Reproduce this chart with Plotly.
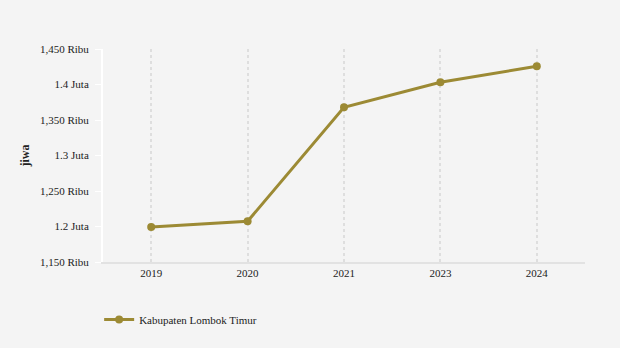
import plotly.graph_objects as go

years = ["2019", "2020", "2021", "2023", "2024"]
values = [1199300, 1207300, 1367900, 1403100, 1425600]
series_name = "Kabupaten Lombok Timur"
y_tick_vals = [1150000, 1200000, 1250000, 1300000, 1350000, 1400000, 1450000]
y_tick_text = ["1,150 Ribu", "1.2 Juta", "1,250 Ribu", "1.3 Juta", "1,350 Ribu", "1.4 Juta", "1,450 Ribu"]

color = "#9c8a34"
font_family = "Liberation Serif"

fig = go.Figure()
fig.add_trace(go.Scatter(
    x=years, y=values, name=series_name, mode="lines+markers",
    line=dict(color=color, width=3),
    marker=dict(color=color, size=8),
))

fig.update_layout(
    width=620, height=348,
    paper_bgcolor="#f4f4f4", plot_bgcolor="#f4f4f4",
    margin=dict(l=103, r=35, t=49, b=86),
    font=dict(family=font_family, size=11, color="#222222"),
    showlegend=True,
    legend=dict(orientation="h", x=-0.008, xanchor="left", y=-0.27, yanchor="middle",
                font=dict(family=font_family, size=11, color="#222222"), bgcolor="rgba(0,0,0,0)"),
    xaxis=dict(
        type="category", range=[-0.5, 4.5],
        showgrid=True, gridcolor="#dedede", griddash="3px,3px", gridwidth=2,
        showline=True, linecolor="#e2e2e2", linewidth=2,
        ticks="", tickfont=dict(family=font_family, size=11, color="#222222"),
        zeroline=False, fixedrange=True,
    ),
    yaxis=dict(
        range=[1150000, 1450000],
        tickvals=y_tick_vals, ticktext=y_tick_text,
        showgrid=False, zeroline=False,
        showline=True, linecolor="#ffffff", linewidth=2,
        ticks="outside", ticklen=6, tickcolor="#ffffff", tickwidth=1,
        ticklabelstandoff=4,
        tickfont=dict(family=font_family, size=11, color="#222222"),
        title=dict(text="<b>jiwa</b>", font=dict(family=font_family, size=12, color="#222222"), standoff=8),
        fixedrange=True,
    ),
)

fig.write_html("out.html")
